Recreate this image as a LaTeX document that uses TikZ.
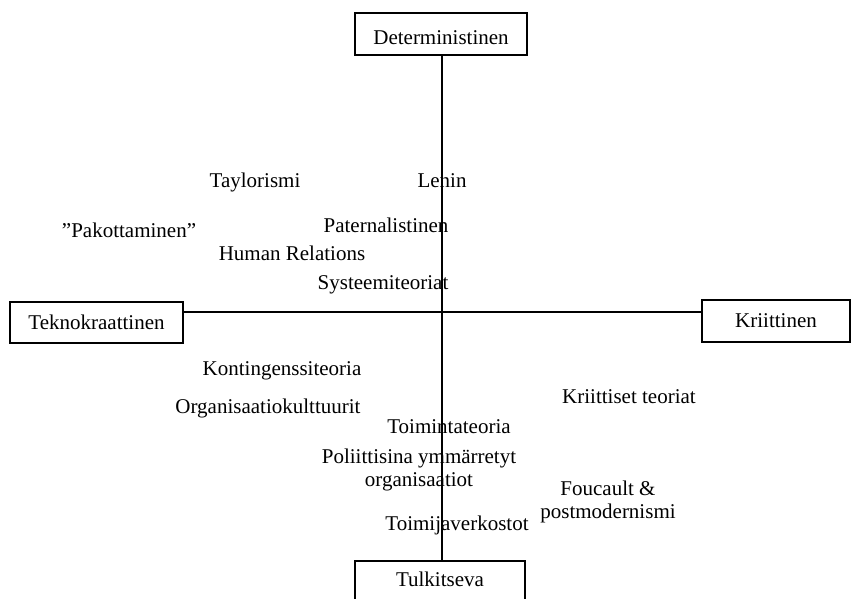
\documentclass[tikz,border=0pt]{standalone}
\usepackage{fontspec}
\setmainfont{Liberation Serif}
\usetikzlibrary{positioning}
\tikzset{
    basic/.style = {font=\fontsize{15.75}{17}\selectfont, inner sep=0pt},
    axis end/.style = {basic, draw, rectangle, line width=1.5pt, align=center, text depth=0pt},
    theory/.style = {basic, align=center, anchor=base},
    axis line/.style = {line width=1.5pt}
}

\begin{document}
\begin{tikzpicture}[x=0.75pt, y=-0.75pt]
	\clip (0,0) rectangle (851,599);
	\coordinate (o) at (442,312);
	\node[axis end, minimum width=129pt, minimum height=32pt, text height=16.5pt] (det) at (441,34) {Deterministinen};
	\node[axis end, minimum width=129.75pt, minimum height=30.75pt, text height=11.25pt] (tek) at (96.5,322.5) {Teknokraattinen};
	\node[axis end, minimum width=111pt, minimum height=31.5pt, text height=10.5pt] (kri) at (776,321) {Kriittinen};
	\node[axis end, minimum width=127.5pt, minimum height=36.75pt, text depth=10pt] (tul) at (440,585.5) {Tulkitseva};
	\draw[axis line] (det.south -| o) -- (tul.north -| o);
	\draw[axis line] (tek.east |- o) -- (kri.west |- o);
	\begin{scope}[every node/.style={theory}]
		\node (taylor) at (255,188) {Taylorismi};
		\node (lenin) at (442,188) {Lenin};
		\node (pakot) at (129,238) {”Pakottaminen”};
		\node (patern) at (386,233) {Paternalistinen};
		\node (human) at (292,261) {Human Relations};
		\node (systeemi) at (383,290) {Systeemiteoriat};
		\node (konting) at (282,376) {Kontingenssiteoria};
		\node (orgkult) at (268,413) {Organisaatiokulttuurit};
		\node (kriitt) at (629,404) {Kriittiset teoriat};
		\node (toiminta) at (449,434) {Toimintateoria};
		\node (poliitt) at (419,486) {Poliittisina ymmärretyt\\organisaatiot};
		\node (foucault) at (608,518) {Foucault \&\\postmodernismi};
		\node (toimija) at (457,530) {Toimijaverkostot};
	\end{scope}
\end{tikzpicture}
\end{document}
